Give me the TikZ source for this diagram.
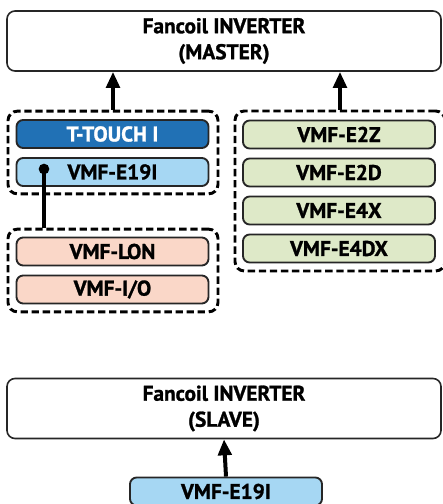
\documentclass[tikz,border=0pt]{standalone}
\usepackage{fontspec}
\setmainfont{PT Sans}[BoldFeatures={FakeBold=1.2}]
\usetikzlibrary{arrows.meta}

\definecolor{touchblue}{RGB}{33,113,181}
\definecolor{lightblue}{RGB}{166,215,243}
\definecolor{salmon}{RGB}{250,215,200}
\definecolor{palegreen}{RGB}{222,233,200}

\begin{document}
\begin{tikzpicture}[x=0.75pt,y=-0.75pt,
	unit/.style={draw=black!85, line width=1.4pt, rounded corners=5pt,
		minimum width=144pt, minimum height=21pt, inner sep=0pt,
		font=\fontsize{16}{18}\selectfont\bfseries},
	group/.style={draw, line width=2.2pt, rounded corners=7pt,
		dash pattern=on 5.5pt off 2.8pt, inner sep=0pt},
	fancoil/.style={draw=black!85, line width=1.2pt, rounded corners=6pt,
		minimum width=325.5pt, minimum height=45pt, align=center,
		font=\fontsize{16}{19.5}\selectfont\bfseries},
	arr/.style={line width=3pt, -{Triangle[length=12pt,width=10pt]}}]

	\useasboundingbox (0,0) rectangle (443,504);
	\clip (0,0) rectangle (443,504);

	% master side
	\node[fancoil] (master) at (224,41) {Fancoil INVERTER\\(MASTER)};

	\node[group, minimum width=157.5pt, minimum height=62pt] (grpA) at (113,152.5) {};
	\node[unit, fill=touchblue, text=white] (touch) at (112.5,134) {T-TOUCH I};
	\node[unit, fill=lightblue] (e19a) at (112.5,172) {VMF-E19I};

	\node[group, minimum width=157.5pt, minimum height=62pt] (grpB) at (113,270.5) {};
	\node[unit, fill=salmon] (lon) at (112.5,251.5) {VMF-LON};
	\node[unit, fill=salmon] (io) at (112.5,289.5) {VMF-I/O};

	\node[group, minimum width=157.5pt, minimum height=120pt] (grpC) at (340,191) {};
	\node[unit, fill=palegreen] (e2z) at (339,134.5) {VMF-E2Z};
	\node[unit, fill=palegreen] (e2d) at (339,172.5) {VMF-E2D};
	\node[unit, fill=palegreen] (e4x) at (339,210.5) {VMF-E4X};
	\node[unit, fill=palegreen] (e4dx) at (339,248.5) {VMF-E4DX};

	\draw[arr] (grpA.north) -- (grpA.north |- master.south);
	\draw[arr] (grpC.north) -- (grpC.north |- master.south);

	\coordinate (dot) at (44,169);
	\fill (dot) circle (4pt);
	\draw[line width=3pt] (dot) -- (dot |- grpB.north);

	% slave side
	\node[fancoil] (slave) at (224,408.5) {Fancoil INVERTER\\(SLAVE)};
	\node[unit, fill=lightblue] (e19b) at (226,491.5) {VMF-E19I};

	\draw[arr] (e19b.north) -- (slave.south);

\end{tikzpicture}
\end{document}
